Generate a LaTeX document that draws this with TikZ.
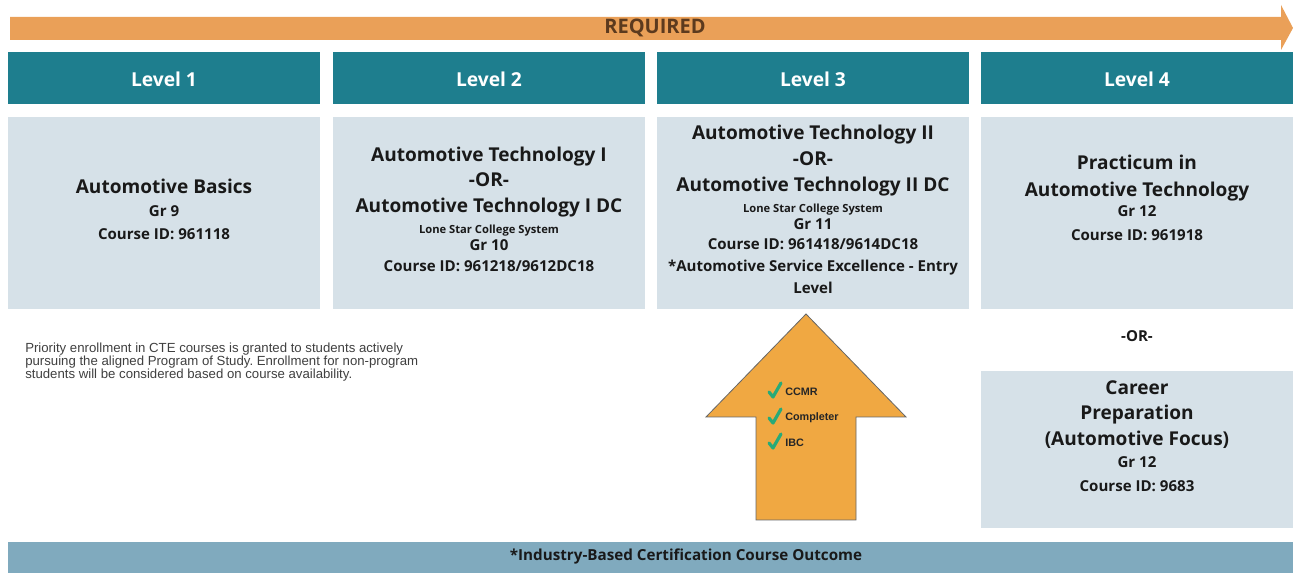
\documentclass[tikz,border=0pt]{standalone}
\usepackage{fontspec}
\setmainfont{Open Sans}
\newfontfamily\notefont{Liberation Sans}
\usetikzlibrary{positioning}
\frenchspacing
\definecolor{teal1}{RGB}{30,126,142}
\definecolor{boxbg}{RGB}{214,225,232}
\definecolor{orangeA}{RGB}{234,160,88}
\definecolor{orangeB}{RGB}{240,168,66}
\definecolor{barbg}{RGB}{128,170,190}
\definecolor{txt}{RGB}{25,25,25}
\definecolor{brownT}{RGB}{92,58,30}
\definecolor{checkg}{RGB}{40,170,120}
\tikzset{
  hdr/.style={fill=teal1, draw=none},
  cbox/.style={fill=boxbg, draw=none},
  hdrtxt/.style={text=white, font=\bfseries\fontsize{14.4}{16}\selectfont},
  big/.style={text=txt, font=\bfseries\fontsize{14.3}{16}\selectfont, text height=.72em, text depth=.22em, inner sep=0pt},
  mid/.style={text=txt, font=\bfseries\fontsize{11.3}{13}\selectfont, text height=.72em, text depth=.22em, inner sep=0pt},
  tiny/.style={text=txt, font=\bfseries\fontsize{8.4}{9}\selectfont, text height=.72em, text depth=.22em, inner sep=0pt},
  chk/.style={text=black!85, font=\notefont\bfseries\fontsize{8.1}{9}\selectfont, anchor=west, inner sep=0pt},
  tick/.style={draw=checkg, line width=2.4pt, line cap=round, line join=round}
}
\begin{document}
\begin{tikzpicture}[x=0.75pt,y=-0.75pt]
\useasboundingbox (0,0) rectangle (1293,573);
\fill[white] (0,0) rectangle (1293,573);
% top arrow
\fill[orangeA] (10,17) -- (1281,17) -- (1281,5) -- (1293,28) -- (1281,50) -- (1281,40) -- (10,40) -- cycle;
\node[text=brownT, font=\bfseries\fontsize{15}{16}\selectfont] (req) at (655,28) {REQUIRED};
% headers
\fill[hdr] (8,52) rectangle (320,104);
\fill[hdr] (333,52) rectangle (645,104);
\fill[hdr] (657,52) rectangle (969,104);
\fill[hdr] (981,52) rectangle (1293,104);
\node[hdrtxt] (l1) at (164,79) {Level 1};
\node[hdrtxt] (l2) at (489,79) {Level 2};
\node[hdrtxt] (l3) at (813,79) {Level 3};
\node[hdrtxt] (l4) at (1137,79) {Level 4};
% content boxes
\fill[cbox] (8,117) rectangle (320,309);
\fill[cbox] (333,117) rectangle (645,309);
\fill[cbox] (657,117) rectangle (969,309);
\fill[cbox] (981,117) rectangle (1293,309);
\fill[cbox] (981,371) rectangle (1293,528);
% box 1
\node[big] (a1) at (164,190) {Automotive Basics};
\node[mid] (a2) at (164,213) {Gr 9};
\node[mid] (a3) at (164,236) {Course ID: 961118};
% box 2
\node[big] (b1) at (489,158) {Automotive Technology I};
\node[big] (b2) at (489,183) {-OR-};
\node[big] (b3) at (489,209) {Automotive Technology I DC};
\node[tiny] (b4) at (489,230) {Lone Star College System};
\node[mid] (b5) at (489,247) {Gr 10};
\node[mid] (b6) at (489,268) {Course ID: 961218/9612DC18};
% box 3
\node[big] (c1) at (813,136) {Automotive Technology II};
\node[big] (c2) at (813,162) {-OR-};
\node[big] (c3) at (813,188) {Automotive Technology II DC};
\node[tiny] (c4) at (813,209) {Lone Star College System};
\node[mid] (c5) at (813,226) {Gr 11};
\node[mid] (c6) at (813,246) {Course ID: 961418/9614DC18};
\node[mid] (c7) at (813,268) {*Automotive Service Excellence - Entry};
\node[mid] (c8) at (813,290) {Level};
% box 4
\node[big] (d1) at (1137,166) {Practicum in};
\node[big] (d2) at (1137,193) {Automotive Technology};
\node[mid] (d3) at (1137,213) {Gr 12};
\node[mid] (d4) at (1137,237) {Course ID: 961918};
\node[mid] (or) at (1137,338) {-OR-};
% career
\node[big] (e1) at (1137,391) {Career};
\node[big] (e2) at (1137,416) {Preparation};
\node[big] (e3) at (1137,442) {(Automotive Focus)};
\node[mid] (e4) at (1137,464) {Gr 12};
\node[mid] (e5) at (1137,488) {Course ID: 9683};
% note
\node[anchor=north west, align=left, inner sep=0pt, text=black!75, font=\notefont\fontsize{9.9}{9.8}\selectfont] (note) at (25,343)
 {Priority enrollment in CTE courses is granted to students actively\\pursuing the aligned Program of Study. Enrollment for non-program\\students will be considered based on course availability.};
% up arrow
\draw[fill=orangeB, draw=black!60, line width=0.6pt] (806,314) -- (906,417) -- (856,417) -- (856,520) -- (756,520) -- (756,417) -- (706,417) -- cycle;
\draw[tick] (769,392) -- (773,397) -- (781,383);
\draw[tick] (769,418) -- (773,423) -- (781,409);
\draw[tick] (769,443) -- (773,448) -- (781,434);
\node[chk] (k1) at (785,392) {CCMR};
\node[chk] (k2) at (785,418) {Completer};
\node[chk] (k3) at (785,443) {IBC};
% bottom bar
\fill[barbg] (8,542) rectangle (1293,573);
\node[text=txt, font=\bfseries\fontsize{11.4}{12}\selectfont] (bar) at (686,557) {*Industry-Based Certification Course Outcome};
\end{tikzpicture}
\end{document}
